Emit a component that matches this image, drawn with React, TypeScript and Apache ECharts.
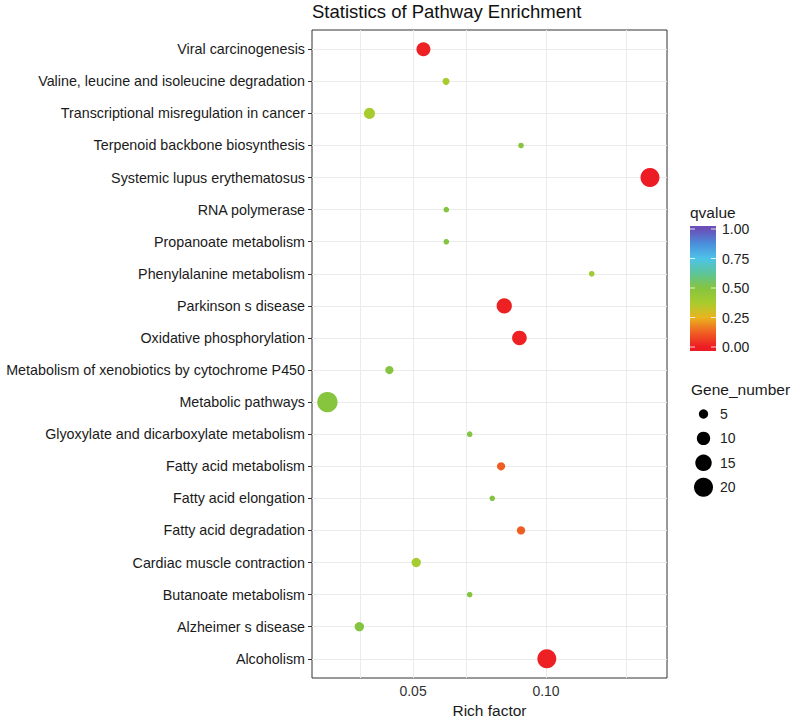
import React, { useEffect, useRef } from "react";
import * as echarts from "echarts";

// Categories listed top to bottom as in the chart
const PATHWAYS = [
  "Viral carcinogenesis",
  "Valine, leucine and isoleucine degradation",
  "Transcriptional misregulation in cancer",
  "Terpenoid backbone biosynthesis",
  "Systemic lupus erythematosus",
  "RNA polymerase",
  "Propanoate metabolism",
  "Phenylalanine metabolism",
  "Parkinson s disease",
  "Oxidative phosphorylation",
  "Metabolism of xenobiotics by cytochrome P450",
  "Metabolic pathways",
  "Glyoxylate and dicarboxylate metabolism",
  "Fatty acid metabolism",
  "Fatty acid elongation",
  "Fatty acid degradation",
  "Cardiac muscle contraction",
  "Butanoate metabolism",
  "Alzheimer s disease",
  "Alcoholism",
];
const RICH_FACTOR = [
  0.0539, 0.0624, 0.0336, 0.0906, 0.1391, 0.0625, 0.0625, 0.1172, 0.0843, 0.09,
  0.0411, 0.0178, 0.0713, 0.0831, 0.0798, 0.0906, 0.0512, 0.0713, 0.0298, 0.1003,
];
const GENE_NUMBER = [11, 3, 7, 2, 20, 2, 2, 2, 13, 12, 4, 23, 2, 4, 2, 4, 5, 2, 5, 20];
const QVALUE = [
  0.01, 0.375, 0.375, 0.49, 0.0, 0.5, 0.5, 0.4, 0.01, 0.01,
  0.5, 0.49, 0.5, 0.12, 0.5, 0.12, 0.38, 0.5, 0.5, 0.01,
];
const X_TICKS = [0.05, 0.1];
const X_GRID = [0.025, 0.05, 0.075, 0.1, 0.125];
const Q_TICKS = [0, 0.25, 0.5, 0.75, 1];
const SIZE_BREAKS = [5, 10, 15, 20];
const Q_COLORS = [
  "#ed1c24",
  "#f06023",
  "#e9b41f",
  "#a8cc2e",
  "#85c440",
  "#5cc59a",
  "#4ec3e8",
  "#4a8fdb",
  "#6a4fb8",
];

const FONT = "Liberation Sans, Arial, Helvetica, sans-serif";
const dotSize = (n: number) => Math.sqrt(Math.max(18.3 * n - 5, 4));

export default function App() {
  const ref = useRef<HTMLDivElement>(null);
  useEffect(() => {
    if (!ref.current) return;
    const chart = echarts.init(ref.current, null, { renderer: "svg" });
    const N = PATHWAYS.length;
    const idx = (i: number) => N - 1 - i; // top row gets highest index
    const data = PATHWAYS.map((_, i) => [RICH_FACTOR[i], idx(i), QVALUE[i], GENE_NUMBER[i]]);
    const yLabels = PATHWAYS.map((_, i) => idx(i));

    // colour bar geometry
    const barX = 690, barW = 26, q0 = 347, q1 = 229, barTop = 226, barBot = 351;
    const qy = (v: number) => q0 - v * (q0 - q1);
    const gradStops = Q_COLORS.map((c, i) => {
      const v = i / (Q_COLORS.length - 1);
      return { offset: (qy(v) - barTop) / (barBot - barTop), color: c };
    });
    gradStops.unshift({ offset: 0, color: Q_COLORS[Q_COLORS.length - 1] });
    gradStops.sort((a, b) => a.offset - b.offset);
    gradStops.push({ offset: 1, color: Q_COLORS[0] });

    const graphics: any[] = [
      { type: "text", left: 690, top: 204, style: { text: "qvalue", font: `15.5px ${FONT}`, fill: "#1a1a1a" } },
      {
        type: "rect",
        shape: { x: barX, y: barTop, width: barW, height: barBot - barTop },
        style: { fill: new echarts.graphic.LinearGradient(0, 0, 0, 1, gradStops) },
      },
    ];
    Q_TICKS.forEach((v) => {
      const y = qy(v);
      graphics.push({ type: "line", shape: { x1: barX, y1: y, x2: barX + 5, y2: y }, style: { stroke: "rgba(255,255,255,0.8)", lineWidth: 1 } });
      graphics.push({ type: "line", shape: { x1: barX + barW - 5, y1: y, x2: barX + barW, y2: y }, style: { stroke: "rgba(255,255,255,0.8)", lineWidth: 1 } });
      graphics.push({
        type: "text",
        x: 722,
        y: y,
        style: { text: v.toFixed(2), font: `14px ${FONT}`, fill: "#222", verticalAlign: "middle" },
      });
    });
    graphics.push({ type: "text", left: 691, top: 381, style: { text: "Gene_number", font: `15.5px ${FONT}`, fill: "#1a1a1a" } });
    SIZE_BREAKS.forEach((n, i) => {
      const y = 414 + i * 24.4;
      graphics.push({ type: "circle", shape: { cx: 703.5, cy: y, r: dotSize(n) / 2 }, style: { fill: "#000" } });
      graphics.push({ type: "text", x: 720, y: y, style: { text: String(n), font: `14px ${FONT}`, fill: "#222", verticalAlign: "middle" } });
    });

    chart.setOption({
      animation: false,
      backgroundColor: "#fff",
      textStyle: { fontFamily: FONT },
      title: {
        text: "Statistics of Pathway Enrichment",
        left: 312,
        top: 2,
        padding: 0,
        textStyle: { fontSize: 18.5, fontWeight: "normal", color: "#111", fontFamily: FONT },
      },
      grid: {
        left: 312,
        right: 133,
        top: 30,
        bottom: 41,
        show: true,
        borderColor: "#333",
        borderWidth: 1,
        backgroundColor: "transparent",
        containLabel: false,
        outerBoundsMode: "none",
      },
      xAxis: {
        type: "value",
        min: 0.012,
        max: 0.1455,
        name: "Rich factor",
        nameLocation: "middle",
        nameGap: 23,
        nameTextStyle: { fontSize: 15.5, color: "#1a1a1a", fontFamily: FONT },
        axisLine: { show: false },
        axisTick: { show: true, customValues: X_TICKS, length: 4, lineStyle: { color: "#333" } },
        axisLabel: { customValues: X_TICKS, formatter: (v: number) => v.toFixed(2), fontSize: 14, color: "#333", margin: 6 },
        splitLine: { show: false },
      },
      yAxis: {
        type: "value",
        min: -0.6,
        max: N - 1 + 0.6,
        axisLine: { show: false },
        axisTick: { show: true, customValues: yLabels, length: 4, lineStyle: { color: "#333" } },
        axisLabel: {
          customValues: yLabels,
          formatter: (v: number) => PATHWAYS[N - 1 - Math.round(v)],
          fontSize: 14.3,
          color: "#1a1a1a",
          margin: 7,
        },
        splitLine: { show: false },
      },
      visualMap: {
        show: false,
        type: "continuous",
        min: 0,
        max: 1,
        dimension: 2,
        seriesIndex: 0,
        inRange: { color: Q_COLORS },
      },
      series: [
        {
          type: "scatter",
          data,
          z: 3,
          symbolSize: (v: number[]) => dotSize(v[3]),
          itemStyle: { opacity: 1 },
          emphasis: { disabled: true },
          markLine: {
            silent: true,
            z: 1,
            symbol: "none",
            label: { show: false },
            lineStyle: { color: "#ebebeb", width: 1, type: "solid" },
            data: [
              ...X_GRID.map((x) => ({ xAxis: x })),
              ...yLabels.map((y) => ({ yAxis: y })),
            ],
          },
        },
      ],
      graphic: graphics,
    });
    return () => chart.dispose();
  }, []);
  return <div ref={ref} style={{ position: "fixed", left: 0, top: 0, width: 800, height: 719 }} />;
}
